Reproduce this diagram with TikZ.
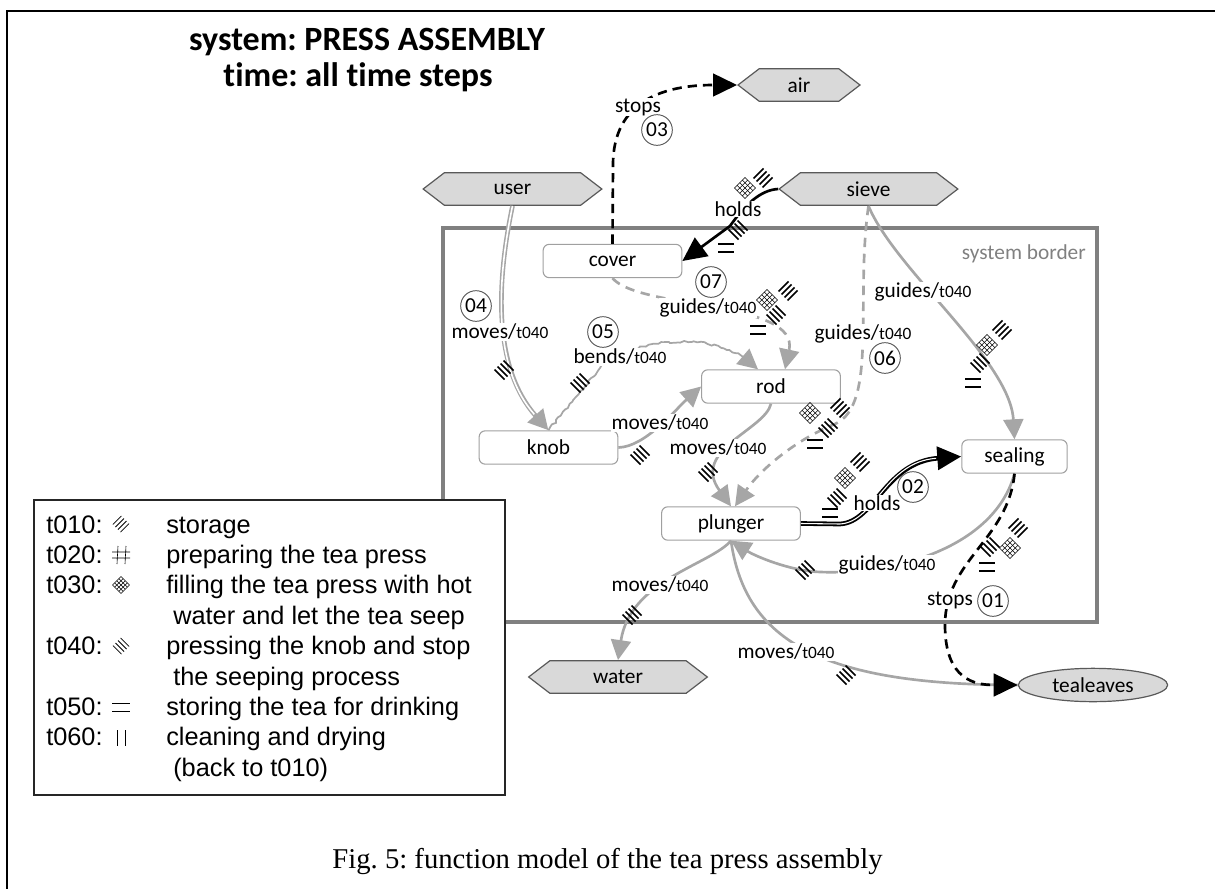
\documentclass[tikz,border=0pt]{standalone}
\usepackage{fontspec}
\setmainfont{Carlito}[Ligatures=NoCommon]
\newfontfamily\arialf{Liberation Sans}
\newfontfamily\timesf{Liberation Serif}
\usetikzlibrary{arrows.meta,shapes.symbols,shapes.geometric,decorations.pathmorphing,calc}
\definecolor{lgray}{RGB}{166,166,166}
\definecolor{bordgray}{RGB}{128,128,128}
\definecolor{hexfill}{RGB}{217,217,217}
\definecolor{hexdraw}{RGB}{89,89,89}
\definecolor{boxdraw}{RGB}{160,160,160}
\newcommand\tzero{{\fontsize{13pt}{13pt}\selectfont t040}}
\frenchspacing
\tikzset{
 every node/.style={font=\fontsize{16pt}{18pt}\selectfont},
 hexnode/.style={shape=signal, signal to=west and east, signal pointer angle=75, fill=hexfill, draw=hexdraw, line width=0.9pt, minimum height=24.5pt, inner sep=0pt},
 compnode/.style={rectangle, rounded corners=4.5pt, draw=boxdraw, line width=0.8pt, fill=white, minimum width=104pt, minimum height=25pt, inner sep=0pt},
 lbl/.style={fill=white, inner sep=0.5pt},
 num/.style={circle, draw=hexdraw, line width=0.7pt, fill=white, minimum size=23pt, inner sep=0pt},
 gtip/.style={-{Triangle[length=15pt,width=15pt]}},
 btip/.style={-{Triangle[length=18pt,width=17pt]}},
 gline/.style={draw=lgray, line width=2pt},
 gdash/.style={draw=lgray, line width=2pt, dash pattern=on 7pt off 5pt},
 bdash/.style={draw=black, line width=2pt, dash pattern=on 7pt off 4.5pt},
 mkline/.style={line width=1.2pt},
 mkthin/.style={line width=0.4pt},
 mkA/.pic={\foreach \i in {-1.5,-0.5,0.5,1.5}{\draw[mkline] ({-5+3*\i},{5+3*\i}) -- ({5+3*\i},{-5+3*\i});}},
 mkD/.pic={\foreach \i in {-1.5,-0.5,0.5,1.5}{\draw[mkline] ({-5+3*\i},{-5-3*\i}) -- ({5+3*\i},{5-3*\i});}},
 mkE/.pic={\draw[mkthin, line width=0.8pt] (-8,-4)--(8,-4) (-8,4)--(8,4);},
 mkX/.pic={\begin{scope}[rotate=45]\foreach \k in {-7.5,-3.75,0,3.75,7.5}{\draw[mkthin] (\k,-7.5)--(\k,7.5); \draw[mkthin] (-7.5,\k)--(7.5,\k);}\end{scope}},
 mkH/.pic={\draw[mkthin] (-3,-9)--(-4,9) (5,-9)--(4,9) (-9,-3)--(9,-3) (-9,3)--(9,3);},
 mkP/.pic={\draw[mkthin] (-4,-8)--(-4,8) (4,-8)--(4,8);},
 lgt/.style={anchor=base west, inner sep=0pt, font=\arialf\fontsize{19pt}{22pt}\selectfont}
}
\begin{document}
\begin{tikzpicture}[x=0.75pt,y=-0.75pt]
\useasboundingbox (0,0) rectangle (1215,889);
% outer frame
\draw[line width=1.6pt] (7,889) -- (7,11) -- (1215,11);
% title
\node[anchor=base, font=\bfseries\fontsize{25.5pt}{28pt}\selectfont] (t1) at (367,50) {system: PRESS ASSEMBLY};
\node[anchor=base, font=\bfseries\fontsize{25.5pt}{28pt}\selectfont] (t2) at (358,86) {time: all time steps};
% system border
\draw[draw=bordgray, line width=3pt] (443,228) rectangle (1097,622);
\node[anchor=east, text=bordgray, inner sep=0pt] (sbl) at (1086,254) {system border};
% legend
\draw[line width=1.1pt, draw=black!85, fill=white] (34,500) rectangle (505,795);
% nodes
\node[hexnode, minimum width=91.5pt] (air) at (799,85) {air};
\node[hexnode, minimum width=134pt] (user) at (512.5,189) {user};
\node[hexnode, minimum width=134pt] (sieve) at (868.5,189) {sieve};
\node[hexnode, minimum width=134pt] (water) at (618,677) {water};
\node[ellipse, fill=hexfill, draw=hexdraw, line width=0.9pt, minimum width=112pt, minimum height=25pt, inner sep=0pt] (tea) at (1093,685) {tealeaves};
\node[compnode] (cover) at (612.5,261) {cover};
\node[compnode] (rod) at (771,386.5) {rod};
\node[compnode] (knob) at (548.5,447.5) {knob};
\node[compnode] (plunger) at (731,523.5) {plunger};
\node[compnode, minimum width=79pt] (sealing) at (1014.5,456.5) {sealing};
% connectors
\draw[bdash, btip] (cover.north) -- (613,165) .. controls (613,100) and (665,85) .. (air.west);
\draw[draw=black, line width=2pt, btip] (sieve.west) .. controls (760,190) and (745,205) .. (730,226) -- (cover.east);
\draw[gdash, gtip] (cover.south) .. controls (640,310) and (800,300) .. ($(rod.north)+(14,0)$);
\draw[draw=lgray, line width=3.5pt, gtip, postaction={draw=white, line width=1.2pt, arrows=-, shorten >=16pt}] (user.south) .. controls (495,290) and (495,370) .. (knob.north);
\draw[draw=lgray, line width=1.3pt, decorate, decoration={random steps, segment length=2.5pt, amplitude=0.9pt, post length=12pt}, gtip] (knob.north) -- (600,368) .. controls (640,335) and (720,330) .. ($(rod.north)+(-13,0)$);
\draw[gline, gtip] (knob.east) .. controls (645,447) and (675,410) .. (rod.west);
\draw[gline, gtip] (rod.south) .. controls (765,430) and (690,450) .. (plunger.north);
\draw[gdash, gtip] (sieve.south) .. controls (855,300) and (878,405) .. (835,424) .. controls (795,440) and (760,470) .. ($(plunger.north)+(4,0)$);
\draw[gline, gtip] (sieve.south) .. controls (895,270) and (1010,360) .. (sealing.north);
\draw[draw=black, line width=3.5pt, btip, postaction={draw=white, line width=0.8pt, arrows=-, shorten >=19pt}] (plunger.east) -- (840,524) .. controls (875,522) and (885,462) .. (sealing.west);
\draw[gline, gtip] (sealing.south) .. controls (995,545) and (900,575) .. (820,572) .. controls (790,571) and (755,556) .. (plunger.south);
\draw[gline, gtip] (plunger.south) .. controls (710,565) and (630,580) .. (water.north);
\draw[gline] (plunger.south) .. controls (745,640) and (820,685) .. (tea.west);
\draw[bdash, btip] (sealing.south) .. controls (1008,540) and (945,560) .. (945,625) .. controls (945,680) and (975,685) .. (tea.west);
% labels
\node[lbl] (l03) at (638,107) {stops};
\node[num] (n03) at (657,130) {03};
\node[lbl] (lh1) at (738,209) {holds};
\node[num] (n07) at (711,282) {07};
\node[lbl] (l07) at (708,308) {guides/\tzero};
\node[num] (n04) at (476,306) {04};
\node[lbl] (l04) at (500,332) {moves/\tzero};
\node[num] (n05) at (603,332) {05};
\node[lbl] (l05) at (620,357) {bends/\tzero};
\node[lbl] (lkr) at (660,423) {moves/\tzero};
\node[lbl] (lrp) at (718,448) {moves/\tzero};
\node[lbl] (l06) at (863,334) {guides/\tzero};
\node[num] (n06) at (885,358) {06};
\node[lbl] (lss) at (923,292) {guides/\tzero};
\node[lbl] (l02) at (877,503) {holds};
\node[num] (n02) at (913,487) {02};
\node[lbl] (lsp) at (887,565) {guides/\tzero};
\node[lbl] (l01) at (950,600) {stops};
\node[num] (n01) at (993,601) {01};
\node[lbl] (lpw) at (660,585) {moves/\tzero};
\node[lbl] (lpt) at (786,652) {moves/\tzero};
% markers
\pic at (745,188) {mkX}; \pic at (763,178) {mkA}; \pic at (738,230) {mkD}; \pic at (726,248) {mkE};
\pic at (767,300) {mkX}; \pic at (788,291) {mkA}; \pic at (776,315) {mkD}; \pic at (758,330) {mkE};
\pic at (504,370) {mkD};
\pic at (580,383) {mkD};
\pic at (640,455) {mkD};
\pic at (708,472) {mkD};
\pic at (810,413) {mkX}; \pic at (840,408) {mkA}; \pic at (828,428) {mkD}; \pic at (815,444) {mkE};
\pic at (987,345) {mkX}; \pic at (1002,330) {mkA}; \pic at (980,363) {mkD}; \pic at (973,383) {mkE};
\pic at (860,462) {mkA}; \pic at (845,478) {mkX}; \pic at (837,498) {mkD}; \pic at (830,513) {mkE};
\pic at (805,570) {mkD};
\pic at (1018,528) {mkA}; \pic at (1010,548) {mkX}; \pic at (990,547) {mkD}; \pic at (987,567) {mkE};
\pic at (632,615) {mkD};
\pic at (846,675) {mkD};
% legend content
\node[lgt] (g1a) at (46,533) {t010:};
\node[lgt] (g1b) at (166,533) {storage};
\node[lgt] (g2a) at (46,563.4) {t020:};
\node[lgt] (g2b) at (166,563.4) {preparing the tea press};
\node[lgt] (g3a) at (46,593.8) {t030:};
\node[lgt] (g3b) at (166,593.8) {filling the tea press with hot};
\node[lgt] (g3c) at (173,624.2) {water and let the tea seep};
\node[lgt] (g4a) at (46,654.6) {t040:};
\node[lgt] (g4b) at (166,654.6) {pressing the knob and stop};
\node[lgt] (g4c) at (173,685) {the seeping process};
\node[lgt] (g5a) at (46,715.4) {t050:};
\node[lgt] (g5b) at (166,715.4) {storing the tea for drinking};
\node[lgt] (g6a) at (46,745.8) {t060:};
\node[lgt] (g6b) at (166,745.8) {cleaning and drying};
\node[lgt] (g6c) at (173,776.2) {(back to t010)};
\begin{scope}[mkline/.style={line width=0.6pt}, mkthin/.style={line width=0.45pt}]
\pic[scale=0.85] at (121,524) {mkA};
\pic at (121,555) {mkH};
\pic[scale=0.8] at (121,585) {mkX};
\pic[scale=0.85] at (121,646) {mkD};
\pic at (121,738) {mkP};
\end{scope}
\draw[line width=0.5pt] (112,703)--(130,703) (112,711)--(130,711);
\node[anchor=base, font=\timesf\fontsize{21.5pt}{24pt}\selectfont] (cap) at (607.5,868) {Fig. 5: function model of the tea press assembly};
\end{tikzpicture}
\end{document}
